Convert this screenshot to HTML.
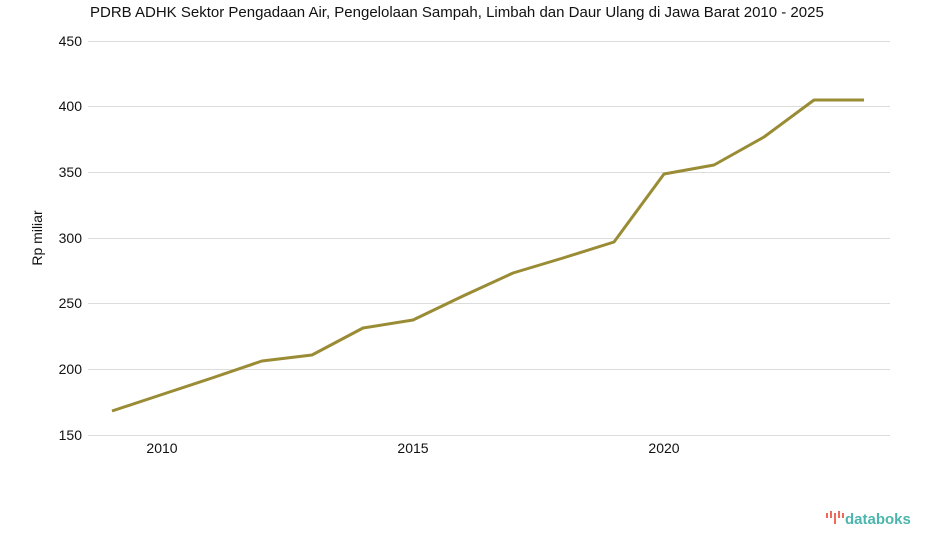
<!DOCTYPE html>
<html><head><meta charset="utf-8"><style>body{margin:0;background:#fff;width:925px;height:547px;overflow:hidden}</style></head>
<body>
<svg width="925" height="547" xmlns="http://www.w3.org/2000/svg" font-family="Liberation Sans, sans-serif">
<text x="90" y="17" font-size="15" fill="#111">PDRB ADHK Sektor Pengadaan Air, Pengelolaan Sampah, Limbah dan Daur Ulang di Jawa Barat 2010 - 2025</text>
<g stroke="#dcdcdc" stroke-width="1">
<line x1="88" x2="890" y1="41.5" y2="41.5"/><line x1="88" x2="890" y1="106.5" y2="106.5"/><line x1="88" x2="890" y1="172.5" y2="172.5"/><line x1="88" x2="890" y1="238.5" y2="238.5"/><line x1="88" x2="890" y1="303.5" y2="303.5"/><line x1="88" x2="890" y1="369.5" y2="369.5"/><line x1="88" x2="890" y1="435.5" y2="435.5"/>
</g>
<g font-size="14" fill="#111" text-anchor="end">
<text x="82" y="46">450</text><text x="82" y="111">400</text><text x="82" y="177">350</text><text x="82" y="243">300</text><text x="82" y="308">250</text><text x="82" y="374">200</text><text x="82" y="440">150</text>
</g>
<g font-size="14" fill="#111" text-anchor="middle">
<text x="162" y="453">2010</text><text x="413" y="453">2015</text><text x="664" y="453">2020</text>
</g>
<text transform="translate(42,238) rotate(-90)" font-size="14" fill="#111" text-anchor="middle">Rp miliar</text>
<polyline fill="none" stroke="#9a8c35" stroke-width="3" stroke-linejoin="round" points="112,411 162,394.5 212,378 262,361 312,355 363,328 413,320 463,296 513,273 563,258 614,242 664,174 714,165 764,137 814,100 864,100"/>
<g fill="#ef6a5a"><rect x="826" y="513" width="2" height="5"/><rect x="830" y="511" width="2" height="7"/><rect x="834" y="513" width="2" height="11"/><rect x="838" y="511" width="2" height="7"/><rect x="842" y="513" width="2" height="5"/></g>
<text x="845" y="524" font-size="15" fill="#4cb5ad" font-weight="bold">databoks</text>
</svg>
</body></html>
